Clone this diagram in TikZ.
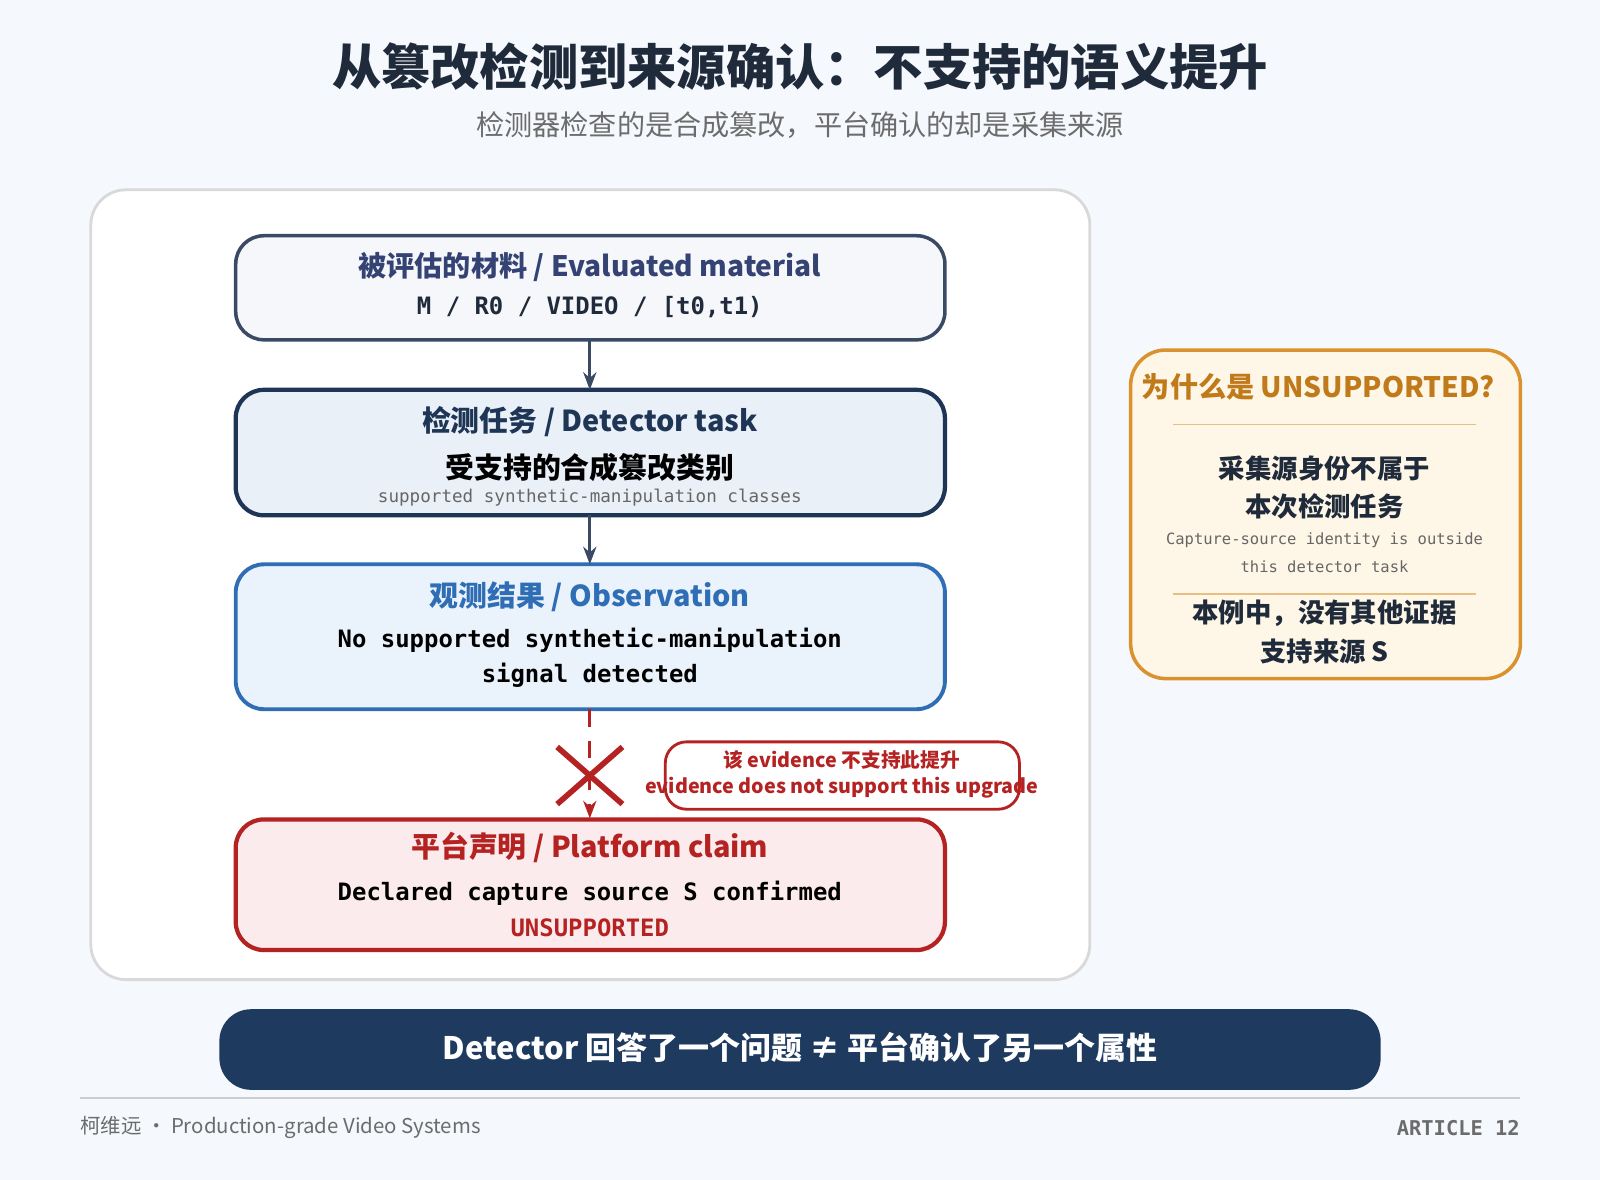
\documentclass[tikz,border=0pt]{standalone}
\usepackage{fontspec}
\setmainfont{Noto Sans CJK SC}
\setmonofont{DejaVu Sans Mono}
\usetikzlibrary{arrows.meta}
\definecolor{bgc}{HTML}{F5F8FC}
\definecolor{ink}{HTML}{1F2A3A}
\definecolor{navy}{HTML}{1F3556}
\definecolor{slate}{HTML}{3A4A64}
\definecolor{obsblue}{HTML}{2F6DB5}
\definecolor{claimred}{HTML}{B52222}
\definecolor{amber}{HTML}{D9922E}
\definecolor{amberdark}{HTML}{C07A1A}
\definecolor{banner}{HTML}{1F3A5F}
\definecolor{matfill}{HTML}{F5F7FB}
\definecolor{taskfill}{HTML}{EAF0F8}
\definecolor{obsfill}{HTML}{EAF2FB}
\definecolor{claimfill}{HTML}{FCEBEC}
\definecolor{notefill}{HTML}{FEF6E6}
\newcommand{\fs}[1]{\fontsize{#1}{#1}\selectfont}
\begin{document}
\begin{tikzpicture}[x=0.0102cm,y=-0.0102cm,
    stage/.style={rounded corners=8pt, line width=1pt},
    head/.style={font=\fs{8.2}\bfseries},
    mono/.style={font=\fs{6.8}\ttfamily\bfseries},
    flow/.style={-{Stealth[length=5pt]}, line width=0.8pt, draw=slate}]

  \fill[bgc] (0,0) rectangle (1568,1156);
  \useasboundingbox (0,0) rectangle (1568,1156);

  % title
  \node[font=\fs{14}\bfseries, text=ink] (title) at (784,65) {从篡改检测到来源确认：不支持的语义提升};
  \node[font=\fs{8}, text=gray!85!black] (subtitle) at (784,123) {检测器检查的是合成篡改，平台确认的却是采集来源};

  % panel
  \draw[rounded corners=10pt, fill=white, draw=gray!30, line width=0.8pt] (89,186) rectangle (1068,960);

  % stages
  \draw[stage, fill=matfill, draw=slate] (231,231) rectangle (926,333);
  \node[font=\fs{8}\bfseries, text=slate!90!blue] (mat) at (578,262) {被评估的材料 / Evaluated material};
  \node[mono, text=ink] (matid) at (578,301) {M / R0 / VIDEO / [t0,t1)};
  \coordinate (b1) at (578,333);

  \draw[stage, fill=taskfill, draw=navy, line width=1.2pt] (231,382) rectangle (926,505);
  \node[head, text=navy] (task) at (578,413) {检测任务 / Detector task};
  \node[head, text=black] (taskcn) at (578,458) {受支持的合成篡改类别};
  \node[font=\fs{5}\ttfamily, text=gray!80!black] (taskmono) at (578,488) {supported synthetic-manipulation classes};
  \coordinate (t2) at (578,382);
  \coordinate (b2) at (578,505);

  \draw[stage, fill=obsfill, draw=obsblue, line width=1.1pt] (231,553) rectangle (926,695);
  \node[head, text=obsblue] (obs) at (578,585) {观测结果 / Observation};
  \node[mono, text=black] (obs1) at (578,627) {No supported synthetic-manipulation};
  \node[mono, text=black] (obs2) at (578,662) {signal detected};
  \coordinate (t3) at (578,553);
  \coordinate (b3) at (578,695);

  \draw[stage, fill=claimfill, draw=claimred, line width=1.2pt] (231,803) rectangle (926,931);
  \node[head, text=claimred] (claim) at (578,830) {平台声明 / Platform claim};
  \node[mono, text=black] (claim1) at (578,875) {Declared capture source S confirmed};
  \node[mono, text=claimred] (claim2) at (578,909) {UNSUPPORTED};
  \coordinate (t4) at (578,802);

  \draw[flow] (b1) -- (t2);
  \draw[flow] (b2) -- (t3);
  \draw[flow, draw=claimred, dashed, dash pattern=on 5pt off 4pt] (b3) -- (t4);

  % blocked mark
  \coordinate (xc) at (578,760);
  \draw[claimred, line width=1.6pt] ([shift={(-32,-28)}]xc) -- ([shift={(32,28)}]xc);
  \draw[claimred, line width=1.6pt] ([shift={(-32,28)}]xc) -- ([shift={(32,-28)}]xc);

  \draw[rounded corners=6pt, fill=white, draw=claimred, line width=0.8pt] (652,727) rectangle (999,793);
  \node[font=\fs{5.6}\bfseries, text=claimred] (blk1) at (825,745) {该 evidence 不支持此提升};
  \node[font=\fs{5.6}\bfseries, text=claimred] (blk2) at (825,772) {evidence does not support this upgrade};

  % side note
  \draw[rounded corners=10pt, fill=notefill, draw=amber, line width=1pt] (1108,343) rectangle (1490,665);
  \node[font=\fs{8}\bfseries, text=amberdark] (why) at (1292,379) {为什么是 UNSUPPORTED?};
  \draw[amber!60, line width=0.5pt] (1150,416) -- (1446,416);
  \node[font=\fs{7.5}\bfseries, text=ink] (w1) at (1298,459) {采集源身份不属于};
  \node[font=\fs{7.5}\bfseries, text=ink] (w2) at (1298,496) {本次检测任务};
  \node[font=\fs{4.4}\ttfamily, text=gray!80!black] (w3) at (1298,529) {Capture-source identity is outside};
  \node[font=\fs{4.4}\ttfamily, text=gray!80!black] (w4) at (1298,555) {this detector task};
  \draw[amber!60, line width=0.5pt] (1150,582) -- (1446,582);
  \node[font=\fs{7.5}\bfseries, text=ink] (w5) at (1298,601) {本例中，没有其他证据};
  \node[font=\fs{7.5}\bfseries, text=ink] (w6) at (1298,638) {支持来源 S};

  % banner
  \fill[banner, rounded corners=9pt] (215,989) rectangle (1353,1068);
  \node[font=\fs{8.8}\bfseries, text=white] (msg) at (784,1026) {Detector 回答了一个问题 ≠ 平台确认了另一个属性};

  % footer
  \draw[gray!40, line width=0.6pt] (78,1076) -- (1490,1076);
  \node[anchor=west, font=\fs{5.8}, text=gray!85!black, inner sep=0] (foot) at (78,1105) {柯维远 · Production-grade Video Systems};
  \node[anchor=east, font=\fs{5.8}\ttfamily\bfseries, text=gray!85!black, inner sep=0] (art) at (1490,1105) {ARTICLE 12};
\end{tikzpicture}
\end{document}
